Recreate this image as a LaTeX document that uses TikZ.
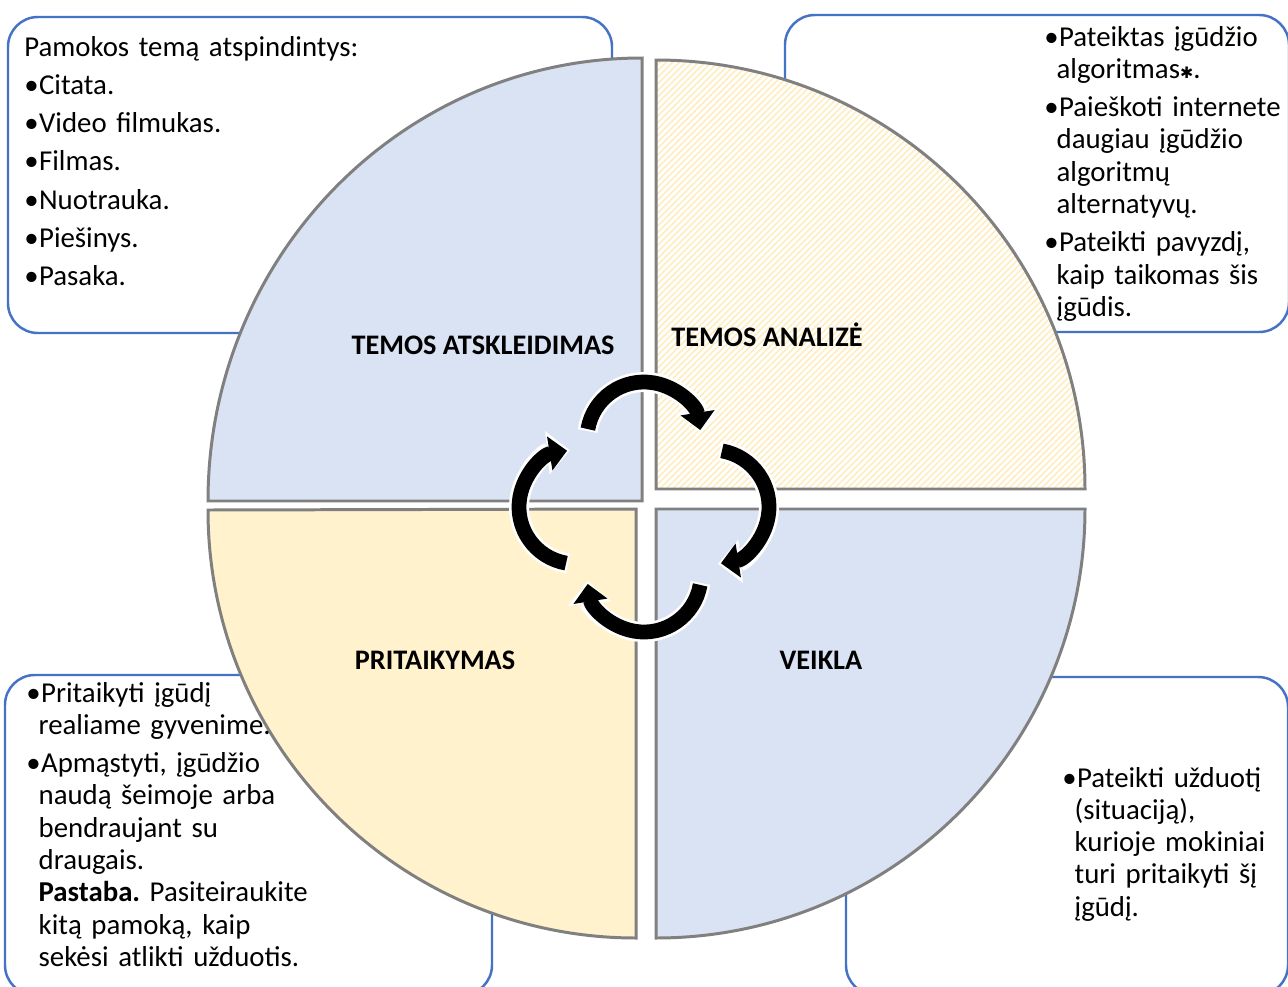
\documentclass[tikz,border=0pt]{standalone}
\usepackage{fontspec}
\setmainfont{Carlito}
\newfontfamily\symfont{DejaVu Sans}
\usepackage{tikz}
\usetikzlibrary{arrows.meta, calc, patterns.meta}

\definecolor{quadblue}{HTML}{DAE3F3}
\definecolor{quadyellow}{HTML}{FFF2CC}
\definecolor{hatchyellow}{HTML}{FFEDBE}
\definecolor{quadgray}{HTML}{808080}
\definecolor{boxblue}{HTML}{4472C4}

\newcommand{\bul}{\makebox[8.4pt][l]{•}}
\newcommand{\cont}{\hspace*{7pt}}
\newcommand{\pgap}{\\[3.4pt]}
\frenchspacing

\begin{document}
\begin{tikzpicture}[x=0.02cm, y=0.02cm,
    quad/.style={draw=quadgray, line width=1.7pt},
    infobox/.style={draw=boxblue, line width=1.4pt, rounded corners=17pt, fill=white},
    boxtext/.style={anchor=base west, inner sep=0pt, text width=8cm, align=left,
      font=\fontsize{16.4pt}{18.4pt}\selectfont},
    quadlabel/.style={anchor=base, inner sep=0pt, font=\fontsize{16.1pt}{19pt}\selectfont\bfseries},
    cycleback/.style={white, line width=11.4pt, -{Triangle[length=13pt, width=24pt]}},
    cyclefront/.style={black, line width=8.4pt, -{Triangle[length=10pt, width=19pt]}}
  ]
  \useasboundingbox (0,0) rectangle (1288,-987);
  \fill[white] (0,0) rectangle (1288,-987);
  \clip (0,0) rectangle (1288,-987);

  % boxes behind the circle
  \draw[infobox] (8,-17) rectangle (612,-333);
  \draw[infobox] (785,-15) rectangle (1289,-332);
  \draw[infobox] (5,-675) rectangle (492,-995);
  \draw[infobox] (846,-677) rectangle (1288,-995);

  % four quarters
  \draw[quad, fill=quadblue] (642,-501) -- (208,-501)
    arc[start angle=180, end angle=90, x radius=434, y radius=443] -- cycle;
  \fill[white] (656,-489) -- (656,-60) arc[start angle=90, end angle=0, radius=429] -- cycle;
  \draw[quad, pattern={Lines[angle=45, distance=2.6pt, line width=0.9pt]}, pattern color=hatchyellow]
    (656,-489) -- (656,-60) arc[start angle=90, end angle=0, radius=429] -- cycle;
  \draw[quad, fill=quadblue] (656,-509) -- (1085,-509)
    arc[start angle=0, end angle=-90, radius=429] -- cycle;
  \draw[quad, fill=quadyellow] (636,-509) -- (636,-938)
    arc[start angle=270, end angle=180, radius=428] -- cycle;

  % cycle arrows
  \coordinate (cyc) at (644,-507);
  \foreach \o in {90,0,-90,180} {
    \draw[cycleback] ($(cyc)+(\o:68)+(\o+82:57)$) arc[start angle=\o+82, end angle=\o-84, radius=57];
    \draw[cyclefront] ($(cyc)+(\o:68)+(\o+80:57)$) arc[start angle=\o+80, end angle=\o-81, radius=57];
  }

  \node[quadlabel] (reveal) at (483,-354) {TEMOS ATSKLEIDIMAS};
  \node[quadlabel] (analysis) at (767,-346) {TEMOS ANALIZĖ};
  \node[quadlabel] (apply) at (435,-669) {PRITAIKYMAS};
  \node[quadlabel] (activity) at (821,-669) {VEIKLA};

  \node[boxtext] (revealtext) at (24,-56) {Pamokos temą atspindintys:\pgap
    \bul Citata.\pgap
    \bul Video filmukas.\pgap
    \bul Filmas.\pgap
    \bul Nuotrauka.\pgap
    \bul Piešinys.\pgap
    \bul Pasaka.};
  \node[boxtext] (analysistext) at (1044,-46) {\bul Pateiktas įgūdžio\\
    \cont algoritmas{\symfont\small ✱}.\pgap
    \bul Paieškoti internete\\
    \cont daugiau įgūdžio\\
    \cont algoritmų\\
    \cont alternatyvų.\pgap
    \bul Pateikti pavyzdį,\\
    \cont kaip taikomas šis\\
    \cont įgūdis.};
  \node[boxtext] (applytext) at (26,-702) {\bul Pritaikyti įgūdį\\
    \cont realiame gyvenime.\pgap
    \bul Apmąstyti, įgūdžio\\
    \cont naudą šeimoje arba\\
    \cont bendraujant su\\
    \cont draugais.\\
    \cont\textbf{Pastaba.} Pasiteiraukite\\
    \cont kitą pamoką, kaip\\
    \cont sekėsi atlikti užduotis.};
  \node[boxtext] (activitytext) at (1062,-787) {\bul Pateikti užduotį\\
    \cont (situaciją),\\
    \cont kurioje mokiniai\\
    \cont turi pritaikyti šį\\
    \cont įgūdį.};
\end{tikzpicture}
\end{document}
